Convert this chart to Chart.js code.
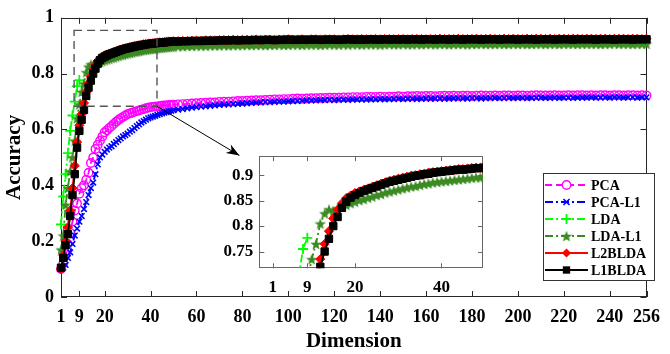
<!DOCTYPE html>
<html><head><meta charset="utf-8">
<script src="https://cdn.jsdelivr.net/npm/chart.js@4.4.1/dist/chart.umd.min.js"></script>
<style>
html,body{margin:0;padding:0;background:#fff;}
#wrap{position:relative;width:670px;height:354px;overflow:hidden;}
#main{position:absolute;left:0;top:0;}
#inset{position:absolute;left:215px;top:140px;}
</style></head><body>
<div id="wrap"><canvas id="main" width="670" height="354"></canvas><canvas id="inset" width="275" height="160"></canvas></div>
<script>
// ---------- data ----------
const dims = [1,2,3,4,5,6,7,8,9,10,11,12,13,14,15,16,17,18,19,20,21,22,23,24,25,26,27,28,29,30,
31,32,33,34,35,36,37,38,39,40,41,42,43,44,45,46,47,48,49,50,
52,54,56,58,60,62,64,66,68,70,
72,74,76,78,80,82,84,86,88,90,
92,94,96,98,100,102,104,106,108,110,
112,114,116,118,120,122,124,126,128,130,
132,134,136,138,140,142,144,146,148,150,
152,154,156,158,160,162,164,166,168,170,
172,174,176,178,180,182,184,186,188,190,
192,194,196,198,200,202,204,206,208,210,
212,214,216,218,220,222,224,226,228,230,
232,234,236,238,240,242,244,246,248,250,
252,254,256];

const pca = [0.10,0.12,0.15,0.19,0.23,0.27,0.31,0.335,0.37,0.39,
0.40,0.42,0.445,0.48,0.50,0.53,0.545,0.56,0.575,0.59,
0.597,0.605,0.612,0.62,0.628,0.634,0.64,0.645,0.65,0.655,
0.658,0.66,0.663,0.666,0.668,0.671,0.673,0.676,0.678,
0.68,0.681,0.682,0.683,0.684,0.685,0.686,0.686,0.688,0.688,0.689,
0.69,0.691,0.692,0.693,0.694,0.695,0.696,0.697,0.697,0.699,
0.70,0.70,0.701,0.702,0.702,0.703,0.704,0.705,0.705,0.706,
0.707,0.708,0.708,0.709,0.709,0.71,0.711,0.71,0.711,0.712,
0.712,0.713,0.713,0.714,0.714,0.714,0.715,0.715,0.716,0.716,
0.716,0.717,0.717,0.717,0.718,0.717,0.718,0.718,0.719,0.718,
0.719,0.719,0.72,0.719,0.72,0.72,0.719,0.72,0.721,0.72,
0.721,0.72,0.721,0.721,0.72,0.721,0.722,0.721,0.721,0.722,
0.721,0.722,0.722,0.721,0.722,0.722,0.721,0.722,0.723,0.722,
0.722,0.722,0.723,0.722,0.722,0.723,0.722,0.723,0.723,0.722,
0.723,0.722,0.723,0.723,0.722,0.723,0.723,0.722,0.723,0.723,
0.722,0.723,0.722];

const pcaL1 = [0.10,0.105,0.115,0.14,0.16,0.19,0.22,0.245,0.27,0.29,
0.315,0.34,0.365,0.39,0.41,0.44,0.475,0.50,0.51,0.52,
0.528,0.535,0.54,0.548,0.555,0.562,0.568,0.575,0.58,0.585,
0.592,0.598,0.605,0.612,0.618,0.625,0.63,0.635,0.64,
0.643,0.646,0.649,0.652,0.655,0.658,0.66,0.662,0.665,0.667,0.669,
0.671,0.673,0.676,0.678,0.68,0.682,0.683,0.685,0.686,0.688,
0.689,0.69,0.691,0.692,0.693,0.694,0.695,0.696,0.697,0.698,
0.698,0.699,0.70,0.70,0.701,0.702,0.702,0.703,0.703,0.704,
0.704,0.705,0.705,0.706,0.705,0.706,0.707,0.706,0.707,0.707,
0.708,0.707,0.708,0.708,0.709,0.708,0.709,0.709,0.71,0.709,
0.71,0.71,0.709,0.71,0.711,0.71,0.711,0.711,0.71,0.711,
0.711,0.712,0.711,0.711,0.712,0.712,0.711,0.712,0.712,0.713,
0.712,0.712,0.713,0.712,0.713,0.713,0.712,0.713,0.713,0.714,
0.713,0.713,0.714,0.713,0.714,0.714,0.713,0.714,0.714,0.714,
0.715,0.714,0.714,0.715,0.714,0.715,0.715,0.714,0.715,0.715,
0.714,0.715,0.715];

const lda = [0.26,0.36,0.44,0.515,0.595,0.65,0.70,0.755,0.777];

const ldaL1 = [0.17,0.22,0.33,0.39,0.45,0.50,0.56,0.64,0.69,0.735,
0.765,0.805,0.825,0.833,0.83,0.835,0.838,0.842,0.845,0.848,
0.851,0.853,0.856,0.858,0.861,0.863,0.866,0.868,0.87,0.872,
0.874,0.876,0.878,0.879,0.881,0.883,0.884,0.886,0.887,
0.888,0.889,0.89,0.891,0.892,0.893,0.894,0.895,0.896,0.896,0.897,
0.898,0.898,0.899,0.899,0.90,0.90,0.90,0.901,0.901,0.901,
0.902,0.901,0.902,0.902,0.902,0.903,0.902,0.903,0.903,0.902,
0.903,0.903,0.904,0.903,0.903,0.904,0.904,0.903,0.904,0.904,
0.904,0.903,0.904,0.905,0.904,0.904,0.905,0.904,0.905,0.905,
0.904,0.905,0.905,0.905,0.904,0.905,0.906,0.905,0.905,0.906,
0.905,0.905,0.906,0.905,0.906,0.906,0.905,0.906,0.906,0.905,
0.906,0.906,0.906,0.905,0.906,0.906,0.907,0.906,0.906,0.906,
0.907,0.906,0.906,0.907,0.906,0.907,0.906,0.906,0.907,0.907,
0.906,0.907,0.907,0.906,0.907,0.907,0.907,0.906,0.907,0.907,
0.907,0.907,0.906,0.907,0.907,0.908,0.907,0.907,0.907,0.906,
0.907,0.907,0.907];

const l2blda = [0.10,0.15,0.20,0.25,0.31,0.39,0.47,0.555,0.615,0.655,
0.695,0.735,0.765,0.79,0.815,0.832,0.845,0.855,0.86,0.865,
0.868,0.871,0.874,0.877,0.88,0.883,0.886,0.889,0.891,0.893,
0.895,0.897,0.899,0.90,0.902,0.903,0.905,0.906,0.907,
0.908,0.909,0.91,0.911,0.912,0.912,0.913,0.914,0.915,0.915,0.916,
0.916,0.917,0.917,0.918,0.918,0.918,0.919,0.919,0.919,0.92,
0.92,0.92,0.921,0.92,0.921,0.921,0.921,0.922,0.921,0.922,
0.922,0.921,0.922,0.922,0.923,0.922,0.922,0.923,0.922,0.923,
0.923,0.922,0.923,0.923,0.923,0.922,0.923,0.924,0.923,0.923,
0.924,0.923,0.923,0.924,0.923,0.924,0.924,0.923,0.924,0.924,
0.923,0.924,0.924,0.924,0.923,0.924,0.924,0.925,0.924,0.924,
0.924,0.925,0.924,0.924,0.924,0.925,0.924,0.924,0.925,0.924,
0.924,0.925,0.924,0.925,0.924,0.924,0.925,0.924,0.925,0.925,
0.924,0.925,0.924,0.925,0.925,0.924,0.925,0.925,0.924,0.925,
0.925,0.924,0.925,0.925,0.924,0.925,0.925,0.925,0.924,0.925,
0.925,0.924,0.925];

const l1blda = [0.105,0.14,0.185,0.225,0.29,0.365,0.44,0.535,0.595,0.635,
0.67,0.72,0.75,0.775,0.80,0.818,0.836,0.848,0.856,0.861,
0.865,0.869,0.872,0.875,0.878,0.881,0.884,0.887,0.889,0.891,
0.893,0.895,0.897,0.899,0.90,0.902,0.903,0.905,0.906,
0.907,0.908,0.909,0.91,0.911,0.911,0.912,0.913,0.914,0.914,0.915,
0.915,0.916,0.916,0.917,0.917,0.917,0.918,0.918,0.918,0.919,
0.919,0.919,0.92,0.919,0.92,0.92,0.92,0.921,0.92,0.921,
0.921,0.92,0.921,0.921,0.922,0.921,0.921,0.922,0.921,0.922,
0.922,0.921,0.922,0.922,0.922,0.921,0.922,0.923,0.922,0.922,
0.922,0.922,0.923,0.922,0.922,0.923,0.922,0.923,0.922,0.923,
0.922,0.923,0.923,0.922,0.923,0.923,0.922,0.923,0.923,0.922,
0.923,0.923,0.922,0.923,0.923,0.923,0.922,0.923,0.923,0.923,
0.922,0.923,0.923,0.923,0.922,0.923,0.923,0.923,0.922,0.923,
0.923,0.923,0.922,0.923,0.923,0.923,0.922,0.923,0.923,0.923,
0.923,0.922,0.923,0.923,0.923,0.922,0.923,0.923,0.923,0.922,
0.923,0.923,0.923];

const seriesNames = ['PCA','PCA-L1','LDA','LDA-L1','L2BLDA','L1BLDA'];
const xTickVals = [1,9,20,40,60,80,100,120,140,160,180,200,220,240,256];
const yTickVals = [0,0.2,0.4,0.6,0.8,1];
const yTickLabels = ['0','0.2','0.4','0.6','0.8','1'];
const insetXTicks = [1,9,20,40];
const insetYTicks = [0.75,0.8,0.85,0.9];
const insetYLabels = ['0.75','0.8','0.85','0.9'];
const xTitle = 'Dimension';
const yTitle = 'Accuracy';
// zoomed region shown by the dashed box (data units) and arrow end
const zoomBox = {x0:6.7, x1:42.8, y0:0.683, y1:0.955};
const arrowEnd = {x:78.7, y:0.507};

// ---------- styles ----------
const FONT = "'Liberation Serif','Times New Roman',serif";
function makeStar(size, color){
  const c=document.createElement('canvas'); c.width=size; c.height=size;
  const g=c.getContext('2d'); g.fillStyle=color; g.beginPath();
  const cx=size/2, cy=size/2+size*0.06, R=size/2, r=R*0.42;
  for(let i=0;i<10;i++){const a=-Math.PI/2+i*Math.PI/5; const rr=(i%2)?r:R; g.lineTo(cx+rr*Math.cos(a), cy+rr*Math.sin(a));}
  g.closePath(); g.fill(); return c;
}
const DG = '#3b8a22';
const star = makeStar(12, DG);
const DASHDOT = [8,3,2,3];
const styles = [
  {color:'#ff00ff', dash:[7,4], ps:'circle', r:4.2, filled:false, bw:1.4},
  {color:'#0000ff', dash:DASHDOT, ps:'crossRot', r:4, filled:false, bw:1.6},
  {color:'#00ff00', dash:DASHDOT, ps:'cross', r:5, filled:false, bw:1.8},
  {color:DG, dash:DASHDOT, ps:star, r:6, filled:true, bw:1},
  {color:'#ff0000', dash:[], ps:'rectRot', r:4.6, filled:true, bw:1},
  {color:'#000000', dash:[], ps:'rect', r:5.2, filled:true, bw:1}
];
const allVals = [pca, pcaL1, lda, ldaL1, l2blda, l1blda];

function buildDatasets(maxX){
  return allVals.map((vals,k)=>{
    const st = styles[k];
    const data = vals.map((v,i)=>({x:dims[i], y:v})).filter(p=>p.x<=maxX);
    return {
      label: seriesNames[k], data,
      borderColor: st.color, borderWidth: 1.8, borderDash: st.dash,
      pointStyle: st.ps, pointRadius: st.r,
      pointBackgroundColor: st.filled ? st.color : 'rgba(255,255,255,0)',
      pointBorderColor: st.color, pointBorderWidth: st.bw,
      tension: 0, fill: false, order: 5-k
    };
  });
}

const framePlugin = {
  id:'frame',
  beforeDatasetsDraw(chart, args, o){
    const {ctx, chartArea:a} = chart; const x=chart.scales.x, y=chart.scales.y;
    ctx.save();
    if (o.bg){ ctx.fillStyle=o.bg; ctx.fillRect(a.left,a.top,a.right-a.left,a.bottom-a.top); }
    ctx.strokeStyle=o.color; ctx.lineWidth=1; ctx.setLineDash([]);
    ctx.strokeRect(Math.round(a.left)+0.5, Math.round(a.top)+0.5, Math.round(a.right-a.left)-1, Math.round(a.bottom-a.top)-1);
    ctx.beginPath();
    const L=o.tick;
    x.ticks.forEach(t=>{const p=Math.round(x.getPixelForValue(t.value))+0.5; ctx.moveTo(p,a.bottom); ctx.lineTo(p,a.bottom-L); ctx.moveTo(p,a.top); ctx.lineTo(p,a.top+L);});
    y.ticks.forEach(t=>{const p=Math.round(y.getPixelForValue(t.value))+0.5; ctx.moveTo(a.left,p); ctx.lineTo(a.left+L,p); ctx.moveTo(a.right,p); ctx.lineTo(a.right-L,p);});
    ctx.stroke(); ctx.restore();
  }
};

const zoomPlugin = {
  id:'zoomMark',
  afterDatasetsDraw(chart){
    const {ctx} = chart; const x=chart.scales.x, y=chart.scales.y;
    const X0=x.getPixelForValue(zoomBox.x0), X1=x.getPixelForValue(zoomBox.x1);
    const Y0=y.getPixelForValue(zoomBox.y0), Y1=y.getPixelForValue(zoomBox.y1);
    ctx.save();
    ctx.strokeStyle='#555'; ctx.lineWidth=1.4; ctx.setLineDash([8,5]);
    ctx.strokeRect(X0, Y1, X1-X0, Y0-Y1);
    ctx.setLineDash([]);
    const ex=x.getPixelForValue(arrowEnd.x), ey=y.getPixelForValue(arrowEnd.y);
    ctx.strokeStyle='#000'; ctx.lineWidth=1;
    ctx.beginPath(); ctx.moveTo(X1,Y0); ctx.lineTo(ex,ey); ctx.stroke();
    const ang=Math.atan2(ey-Y0, ex-X1), L=13, W=5;
    ctx.fillStyle='#000'; ctx.beginPath();
    ctx.moveTo(ex,ey);
    ctx.lineTo(ex-L*Math.cos(ang)+W*Math.sin(ang), ey-L*Math.sin(ang)-W*Math.cos(ang));
    ctx.lineTo(ex-L*0.7*Math.cos(ang), ey-L*0.7*Math.sin(ang));
    ctx.lineTo(ex-L*Math.cos(ang)-W*Math.sin(ang), ey-L*Math.sin(ang)+W*Math.cos(ang));
    ctx.closePath(); ctx.fill();
    ctx.restore();
  }
};

function drawMarker(ctx, st, cx, cy){
  ctx.save(); ctx.setLineDash([]); ctx.strokeStyle=st.color; ctx.fillStyle=st.color; ctx.lineWidth=st.bw;
  const r=st.r;
  if (st.ps==='circle'){ ctx.beginPath(); ctx.arc(cx,cy,r,0,Math.PI*2); ctx.fillStyle='#fff'; ctx.fill(); ctx.stroke(); }
  else if (st.ps==='crossRot'){ const d=r*0.75; ctx.beginPath(); ctx.moveTo(cx-d,cy-d); ctx.lineTo(cx+d,cy+d); ctx.moveTo(cx+d,cy-d); ctx.lineTo(cx-d,cy+d); ctx.stroke(); }
  else if (st.ps==='cross'){ ctx.beginPath(); ctx.moveTo(cx-r,cy); ctx.lineTo(cx+r,cy); ctx.moveTo(cx,cy-r); ctx.lineTo(cx,cy+r); ctx.stroke(); }
  else if (st.ps==='rectRot'){ ctx.beginPath(); ctx.moveTo(cx,cy-r); ctx.lineTo(cx+r,cy); ctx.lineTo(cx,cy+r); ctx.lineTo(cx-r,cy); ctx.closePath(); ctx.fill(); }
  else if (st.ps==='rect'){ const s=r*Math.SQRT1_2; ctx.fillRect(cx-s,cy-s,2*s,2*s); }
  else { ctx.drawImage(st.ps, cx-st.ps.width/2, cy-st.ps.height/2); }
  ctx.restore();
}

const legendPlugin = {
  id:'boxLegend',
  afterDraw(chart){
    const {ctx} = chart;
    const bx=543, by=173, bw=111, bh=107, row0=185, step=17, lx0=545, lx1=588, tx=591;
    ctx.save();
    ctx.fillStyle='#fff'; ctx.fillRect(bx,by,bw,bh);
    ctx.strokeStyle='#333'; ctx.lineWidth=1; ctx.strokeRect(bx+0.5,by+0.5,bw,bh);
    ctx.font="bold 14px "+FONT; ctx.textBaseline='middle'; ctx.textAlign='left';
    seriesNames.forEach((name,k)=>{
      const st=styles[k], yy=row0+k*step;
      ctx.strokeStyle=st.color; ctx.lineWidth=2; ctx.setLineDash(st.dash);
      ctx.beginPath(); ctx.moveTo(lx0,yy); ctx.lineTo(lx1,yy); ctx.stroke();
      drawMarker(ctx, st, (lx0+lx1)/2, yy);
      ctx.fillStyle='#000'; ctx.fillText(name, tx, yy+1);
    });
    ctx.restore();
  }
};

// ---------- main chart ----------
new Chart(document.getElementById('main'), {
  type:'line',
  data:{datasets: buildDatasets(1000).map(d=>Object.assign(d,{clip:false}))},
  options:{
    responsive:false, animation:false, devicePixelRatio:1,
    layout:{padding:{top:11,right:14,left:0,bottom:0}},
    plugins:{legend:{display:false}, tooltip:{enabled:false}, frame:{color:'#262626', tick:6}},
    scales:{
      x:{type:'linear', min:1, max:256,
        afterBuildTicks:s=>{s.ticks=xTickVals.map(v=>({value:v}));},
        afterFit:s=>{s.height=57;},
        ticks:{color:'#000', font:{family:FONT,size:18,weight:'bold'}, padding:10, autoSkip:false, maxRotation:0, callback:v=>String(v)},
        grid:{display:false, drawTicks:false}, border:{display:false},
        title:{display:true, text:xTitle, color:'#000', font:{family:FONT,size:21,weight:'bold'}, padding:{top:0,bottom:0}}
      },
      y:{type:'linear', min:0, max:1,
        afterBuildTicks:s=>{s.ticks=yTickVals.map(v=>({value:v}));},
        afterFit:s=>{s.width=61;},
        ticks:{color:'#000', font:{family:FONT,size:18,weight:'bold'}, padding:7, callback:(v,i)=>yTickLabels[i]},
        grid:{display:false, drawTicks:false}, border:{display:false},
        title:{display:true, text:yTitle, color:'#000', font:{family:FONT,size:21,weight:'bold'}, padding:{top:2,bottom:0}}
      }
    }
  },
  plugins:[framePlugin, zoomPlugin, legendPlugin]
});

// ---------- inset chart ----------
new Chart(document.getElementById('inset'), {
  type:'line',
  data:{datasets: buildDatasets(53)},
  options:{
    responsive:false, animation:false, devicePixelRatio:1,
    layout:{padding:{top:5,right:7,left:0,bottom:0}},
    plugins:{legend:{display:false}, tooltip:{enabled:false}, frame:{color:'#666', tick:5, bg:'#fff'}},
    scales:{
      x:{type:'linear', min:-2.1, max:49.6,
        afterBuildTicks:s=>{s.ticks=insetXTicks.map(v=>({value:v}));},
        afterFit:s=>{s.height=31.7;},
        ticks:{color:'#000', font:{family:FONT,size:17,weight:'bold'}, padding:9, autoSkip:false, maxRotation:0, callback:v=>String(v)},
        grid:{display:false, drawTicks:false}, border:{display:false}
      },
      y:{type:'linear', min:0.717, max:0.9375,
        afterBuildTicks:s=>{s.ticks=insetYTicks.map(v=>({value:v}));},
        afterFit:s=>{s.width=44.3;},
        ticks:{color:'#000', font:{family:FONT,size:17,weight:'bold'}, padding:6, callback:(v,i)=>insetYLabels[i]},
        grid:{display:false, drawTicks:false}, border:{display:false}
      }
    }
  },
  plugins:[framePlugin]
});
</script>
</body></html>
